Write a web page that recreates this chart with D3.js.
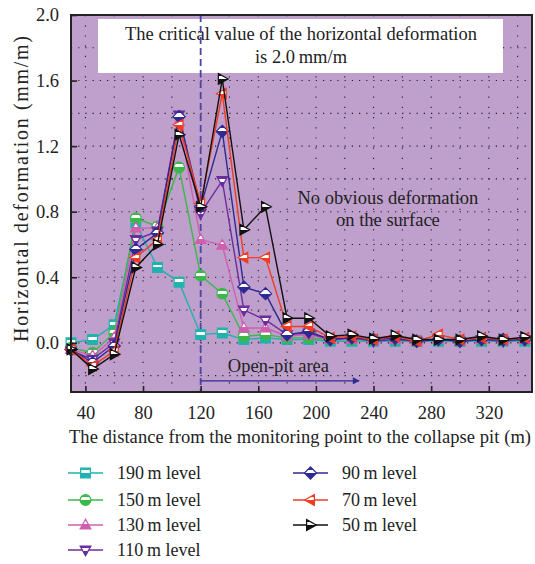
<!DOCTYPE html>
<html>
<head>
<meta charset="utf-8">
<script src="https://cdn.jsdelivr.net/npm/d3@7"></script>
<style>
  body { margin: 0; background: #fff; }
  svg { display: block; font-family: "Liberation Serif", "DejaVu Serif", serif; }
</style>
</head>
<body>
<div id="chart"></div>
<script>
// monitoring distances (m)
const distances = [30, 45, 60, 75, 90, 105, 120, 135, 150, 165, 180, 195, 210, 225, 240, 255, 270, 285, 300, 315, 330, 345];

// horizontal deformation (mm/m) per level
const lv190 = [0.00, 0.02, 0.11, 0.73, 0.46, 0.37, 0.05, 0.06, 0.02, 0.03, 0.02, 0.02, 0.01, 0.01, 0.01, 0.01, 0.01, 0.01, 0.01, 0.01, 0.01, 0.01];
const lv150 = [-0.03, -0.06, 0.06, 0.76, 0.71, 1.07, 0.41, 0.30, 0.04, 0.05, 0.03, 0.03, 0.02, 0.02, 0.02, 0.02, 0.01, 0.02, 0.01, 0.02, 0.02, 0.02];
const lv130 = [-0.04, -0.08, 0.03, 0.70, 0.70, 1.35, 0.63, 0.595, 0.09, 0.09, 0.04, 0.05, 0.02, 0.02, 0.02, 0.02, 0.01, 0.02, 0.01, 0.02, 0.02, 0.02];
const lv110 = [-0.05, -0.10, 0.00, 0.63, 0.68, 1.39, 0.79, 0.99, 0.20, 0.14, 0.05, 0.06, 0.02, 0.03, 0.01, 0.02, 0.01, 0.02, 0.01, 0.02, 0.01, 0.02];
const lv90 = [-0.04, -0.12, -0.02, 0.57, 0.67, 1.38, 0.83, 1.29, 0.34, 0.30, 0.05, 0.07, 0.02, 0.03, 0.02, 0.03, 0.01, 0.02, 0.01, 0.02, 0.02, 0.02];
const lv70 = [-0.04, -0.14, -0.05, 0.52, 0.63, 1.33, 0.85, 1.52, 0.52, 0.52, 0.10, 0.10, 0.03, 0.04, 0.02, 0.04, 0.01, 0.05, 0.02, 0.03, 0.02, 0.03];
const lv50 = [-0.04, -0.16, -0.07, 0.46, 0.60, 1.27, 0.83, 1.61, 0.69, 0.83, 0.15, 0.15, 0.04, 0.05, 0.025, 0.045, 0.02, 0.02, 0.02, 0.04, 0.02, 0.035];

const seriesNames = ['190 m level', '150 m level', '130 m level', '110 m level', '90 m level', '70 m level', '50 m level'];
const seriesValues = [lv190, lv150, lv130, lv110, lv90, lv70, lv50];
const seriesColors = ['#1fb3ad', '#3cb84a', '#cf5fae', '#6b2c9e', '#2e2a94', '#f03c20', '#111111'];
const seriesShapes = ['square', 'circle', 'up', 'down', 'diamond', 'left', 'right'];

const xTicks = [40, 80, 120, 160, 200, 240, 280, 320];
const yTicks = [0.0, 0.4, 0.8, 1.2, 1.6, 2.0];

const width = 535, height = 564;
const margin = { top: 15, right: 3, bottom: 172, left: 71 };
const w = width - margin.left - margin.right;
const h = height - margin.top - margin.bottom;

const svg = d3.select('#chart').append('svg')
  .attr('width', width)
  .attr('height', height);

const defs = svg.append('defs');

const x = d3.scaleLinear().domain([30, 350]).range([0, w]);
const y = d3.scaleLinear().domain([-0.3, 2.0]).range([h, 0]);

const g = svg.append('g')
  .attr('transform', 'translate(' + margin.left + ',' + margin.top + ')');

// plot background
g.append('rect')
  .attr('width', w).attr('height', h)
  .attr('fill', '#bf9fcb');

// dotted grid
g.selectAll('.vgrid')
  .data(d3.range(40, 350, 20))
  .enter().append('line')
  .attr('x1', d => x(d)).attr('x2', d => x(d))
  .attr('y1', 0).attr('y2', h)
  .attr('stroke', '#222').attr('stroke-width', 1.1)
  .attr('stroke-dasharray', '1.2,9');

g.selectAll('.hgrid')
  .data(d3.range(-0.2, 2.0, 0.2))
  .enter().append('line')
  .attr('x1', 0).attr('x2', w)
  .attr('y1', d => y(d)).attr('y2', d => y(d))
  .attr('stroke', '#222').attr('stroke-width', 1.1)
  .attr('stroke-dasharray', '1.2,6');

// annotation box
g.append('rect')
  .attr('x', 27).attr('y', 4)
  .attr('width', 405).attr('height', 54)
  .attr('fill', '#fff');

g.append('text')
  .attr('x', 230).attr('y', 25)
  .attr('text-anchor', 'middle')
  .attr('font-size', 18.5).attr('fill', '#222')
  .attr('textLength', 352).attr('lengthAdjust', 'spacing')
  .text('The critical value of the horizontal deformation');
g.append('text')
  .attr('x', 230).attr('y', 48)
  .attr('text-anchor', 'middle')
  .attr('font-size', 18.5).attr('fill', '#222')
  .text('is 2.0\u2009mm/m');

// open pit boundary
g.append('line')
  .attr('x1', x(120)).attr('x2', x(120))
  .attr('y1', 0).attr('y2', h)
  .attr('stroke', '#4a46a6').attr('stroke-width', 1.8)
  .attr('stroke-dasharray', '7,4');

defs.append('marker')
  .attr('id', 'arrow')
  .attr('viewBox', '0 0 10 10')
  .attr('refX', 9).attr('refY', 5)
  .attr('markerWidth', 10).attr('markerHeight', 7)
  .attr('markerUnits', 'userSpaceOnUse')
  .attr('orient', 'auto')
  .append('path')
  .attr('d', 'M0,0 L10,5 L0,10 Z')
  .attr('fill', '#2e2a94');

g.append('line')
  .attr('x1', x(120)).attr('x2', x(230))
  .attr('y1', y(-0.232)).attr('y2', y(-0.232))
  .attr('stroke', '#2e2a94').attr('stroke-width', 1.4)
  .attr('marker-end', 'url(#arrow)');

g.append('text')
  .attr('x', x(174)).attr('y', y(-0.18))
  .attr('text-anchor', 'middle')
  .attr('font-size', 18.5).attr('fill', '#222')
  .text('Open-pit area');

g.append('text')
  .attr('x', x(250)).attr('y', y(0.85))
  .attr('text-anchor', 'middle')
  .attr('font-size', 18.5).attr('fill', '#222')
  .text('No obvious deformation');
g.append('text')
  .attr('x', x(250)).attr('y', y(0.715))
  .attr('text-anchor', 'middle')
  .attr('font-size', 18.5).attr('fill', '#222')
  .text('on the surface');

// marker shapes
function shapeType(kind) {
  return {
    draw(ctx, size) {
      const s = Math.sqrt(size) / 2;
      if (kind === 'square') {
        ctx.rect(-s, -s, 2 * s, 2 * s);
      } else if (kind === 'circle') {
        ctx.moveTo(s * 1.1, 0);
        ctx.arc(0, 0, s * 1.1, 0, 2 * Math.PI);
      } else if (kind === 'up') {
        ctx.moveTo(0, -s * 1.2); ctx.lineTo(s * 1.1, s * 0.8); ctx.lineTo(-s * 1.1, s * 0.8); ctx.closePath();
      } else if (kind === 'down') {
        ctx.moveTo(0, s * 1.2); ctx.lineTo(s * 1.1, -s * 0.8); ctx.lineTo(-s * 1.1, -s * 0.8); ctx.closePath();
      } else if (kind === 'diamond') {
        ctx.moveTo(0, -s * 1.25); ctx.lineTo(s * 1.25, 0); ctx.lineTo(0, s * 1.25); ctx.lineTo(-s * 1.25, 0); ctx.closePath();
      } else if (kind === 'left') {
        ctx.moveTo(-s * 1.2, 0); ctx.lineTo(s * 0.8, -s * 1.1); ctx.lineTo(s * 0.8, s * 1.1); ctx.closePath();
      } else {
        ctx.moveTo(s * 1.2, 0); ctx.lineTo(-s * 0.8, -s * 1.1); ctx.lineTo(-s * 0.8, s * 1.1); ctx.closePath();
      }
    }
  };
}

// gradient fills to mimic the white glare on the markers
seriesColors.forEach((c, i) => {
  const grad = defs.append('linearGradient')
    .attr('id', 'mk' + i)
    .attr('x1', 0).attr('y1', 0).attr('x2', 0).attr('y2', 1);
  grad.append('stop').attr('offset', '0%').attr('stop-color', c);
  grad.append('stop').attr('offset', '22%').attr('stop-color', c);
  grad.append('stop').attr('offset', '22%').attr('stop-color', '#fff');
  grad.append('stop').attr('offset', '50%').attr('stop-color', '#fff');
  grad.append('stop').attr('offset', '50%').attr('stop-color', c);
  grad.append('stop').attr('offset', '100%').attr('stop-color', c);
});

const line = d3.line()
  .x((d, i) => x(distances[i]))
  .y(d => y(d));

seriesValues.forEach((vals, i) => {
  const sg = g.append('g');
  sg.append('path')
    .datum(vals)
    .attr('d', line)
    .attr('fill', 'none')
    .attr('stroke', seriesColors[i])
    .attr('stroke-width', 1.4);

  sg.selectAll('.pt')
    .data(vals)
    .enter().append('path')
    .attr('transform', (d, j) => 'translate(' + x(distances[j]) + ',' + y(d) + ')')
    .attr('d', d3.symbol().type(shapeType(seriesShapes[i])).size(95))
    .attr('fill', 'url(#mk' + i + ')')
    .attr('stroke', seriesColors[i])
    .attr('stroke-width', 1.2);
});

// axes
const xAxis = g.append('g')
  .attr('transform', 'translate(0,' + h + ')')
  .call(d3.axisBottom(x).tickValues(xTicks).tickSize(-6).tickPadding(14).tickFormat(d3.format('d')));
const yAxis = g.append('g')
  .call(d3.axisLeft(y).tickValues(yTicks).tickSize(-6).tickPadding(12).tickFormat(d3.format('.1f')));

[xAxis, yAxis].forEach(a => {
  a.select('.domain').remove();
  a.selectAll('.tick line').attr('stroke', '#222').attr('stroke-width', 1.6);
  a.selectAll('.tick text')
    .attr('font-family', '"Liberation Serif", "DejaVu Serif", serif')
    .attr('font-size', 18.5).attr('fill', '#222');
});

// frame
g.append('rect')
  .attr('width', w).attr('height', h)
  .attr('fill', 'none')
  .attr('stroke', '#222').attr('stroke-width', 2);

// axis titles
svg.append('text')
  .attr('x', 300).attr('y', 443)
  .attr('text-anchor', 'middle')
  .attr('font-size', 18.5).attr('fill', '#222')
  .attr('textLength', 462).attr('lengthAdjust', 'spacing')
  .text('The distance from the monitoring point to the collapse pit (m)');

svg.append('text')
  .attr('transform', 'translate(28,189) rotate(-90)')
  .attr('text-anchor', 'middle')
  .attr('font-size', 20).attr('fill', '#222')
  .attr('textLength', 306).attr('lengthAdjust', 'spacing')
  .text('Horizontal deformation (mm/m)');

// legend
const legendX = [68, 293];
const legendY = [473, 500, 525, 550];
seriesNames.forEach((name, i) => {
  const col = i < 4 ? 0 : 1;
  const row = i < 4 ? i : i - 4;
  const lg = svg.append('g')
    .attr('transform', 'translate(' + legendX[col] + ',' + legendY[row] + ')');
  lg.append('line')
    .attr('x1', 0).attr('x2', 35)
    .attr('stroke', seriesColors[i]).attr('stroke-width', 1.4);
  lg.append('path')
    .attr('transform', 'translate(17.5,0)')
    .attr('d', d3.symbol().type(shapeType(seriesShapes[i])).size(95))
    .attr('fill', 'url(#mk' + i + ')')
    .attr('stroke', seriesColors[i])
    .attr('stroke-width', 1.2);
  lg.append('text')
    .attr('x', 49).attr('y', 6)
    .attr('font-size', 18).attr('fill', '#222')
    .text(name.replace(' m ', '\u2009m '));
});
</script>
</body>
</html>
